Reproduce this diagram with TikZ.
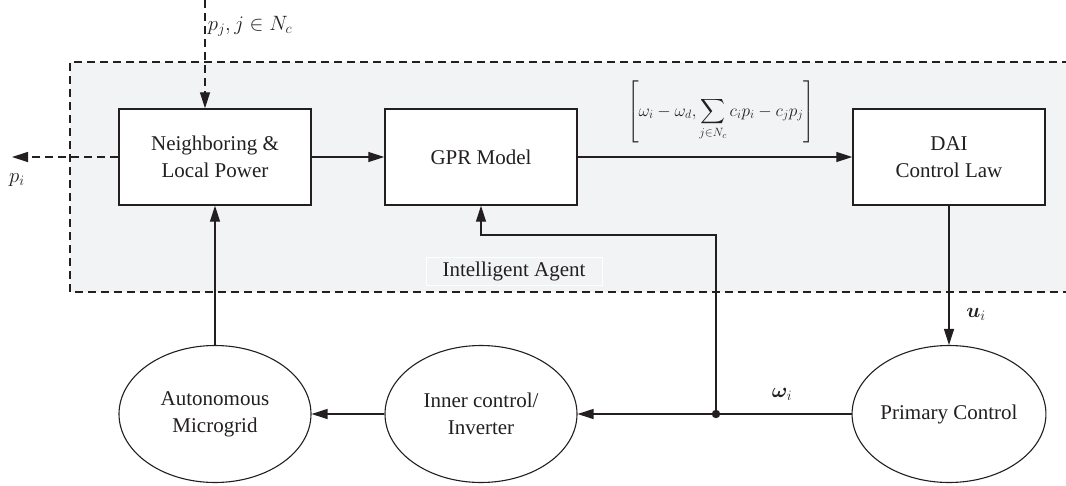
\documentclass[tikz,border=0pt]{standalone}
\usepackage{fontspec}
\usepackage{amsmath,bm}
\setmainfont{Liberation Serif}
\usetikzlibrary{arrows.meta,shapes.geometric,calc}
\definecolor{ink}{HTML}{231F20}
\definecolor{agentbg}{HTML}{F2F3F5}
\tikzset{
  blk/.style={draw=ink,line width=1.4pt,fill=white,rectangle,minimum width=192pt,minimum height=96pt,inner sep=0pt,align=center,text=ink,font=\fontsize{21}{27}\selectfont},
  oval/.style={draw=ink,line width=1.1pt,fill=white,ellipse,minimum width=192pt,minimum height=137pt,inner sep=0pt,align=center,text=ink,font=\fontsize{21}{27}\selectfont},
  arr/.style={draw=ink,line width=1.2pt,-{Triangle[length=16pt,width=10pt]}},
  ln/.style={draw=ink,line width=1.2pt},
  dsh/.style={draw=ink,line width=1.2pt,dash pattern=on 8pt off 5pt},
  lbl/.style={text=ink,font=\fontsize{22}{26}\selectfont,inner sep=0pt},
}
\begin{document}
\begin{tikzpicture}[x=1pt,y=-1pt]
\useasboundingbox (0,0) rectangle (1066,485);
% agent area
\fill[agentbg] (70,62) rectangle (1070,292);
\draw[dsh] (1070,62) -- (70,62) -- (70,292) -- (1070,292);
\node[lbl,font=\fontsize{21}{25}\selectfont,draw=white,line width=0.8pt,minimum width=176pt,minimum height=28pt] (agent) at (514,271) {Intelligent Agent};
% blocks
\node[blk] (nb) at (215,157) {Neighboring \&\\Local Power};
\node[blk] (gpr) at (481,157) {GPR Model};
\node[blk] (dai) at (949,157) {DAI\\Control Law};
\node[oval] (am) at (215,414) {Autonomous\\Microgrid};
\node[oval] (ic) at (481,414) {Inner control/\\Inverter};
\node[oval] (pc) at (949,414) {Primary Control};
% external connections
\coordinate (topin) at (205,0);
\coordinate (leftout) at (12,157);
\draw[dsh,-{Triangle[length=16pt,width=10pt]}] (topin) -- (topin |- nb.north);
\draw[dsh,-{Triangle[length=16pt,width=10pt]}] (nb.west) -- (leftout);
\node[lbl] (pj) at (250,26) {$p_j, j\in N_c$};
\node[lbl] (pi) at (17,180) {$p_i$};
% main flow
\draw[arr] (nb.east) -- (gpr.west);
\draw[arr] (gpr.east) -- (dai.west);
\node[lbl,font=\fontsize{18}{22}\selectfont] (formula) at (721,112) {$\displaystyle\left[\omega_i-\omega_d,\sum_{j\in N_c} c_i p_i - c_j p_j\right]$};
\draw[arr] (dai.south) -- (pc.north);
\node[lbl] (ui) at (976,314) {$\bm{u}_i$};
\coordinate (jn) at (716,414);
\coordinate (fb) at (716,235);
\draw[arr] (pc.west) -- (ic.east);
\fill[ink] (jn) circle (4.2pt);
\node[lbl] (wi) at (782,394) {$\bm{\omega}_i$};
\draw[arr] (jn) -- (fb) -| (gpr.south);
\draw[arr] (ic.west) -- (am.east);
\draw[arr] (am.north) -- (nb.south);
\end{tikzpicture}
\end{document}
